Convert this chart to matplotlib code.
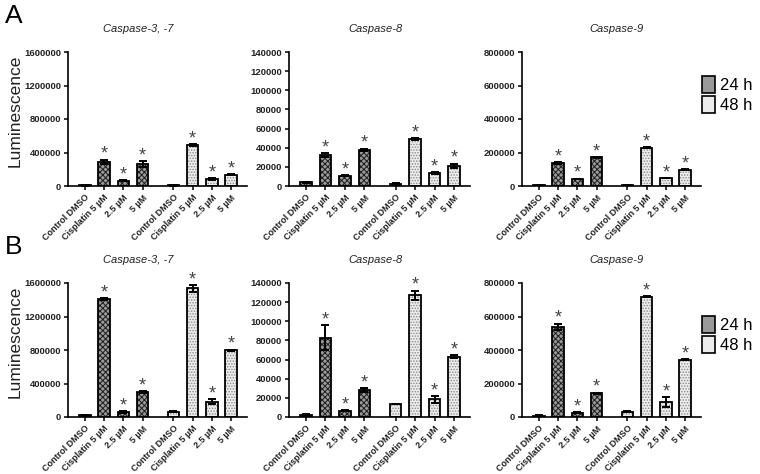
import numpy as np
import matplotlib.pyplot as plt
from matplotlib.patches import Patch

plt.rcParams['font.family'] = ['Liberation Sans', 'DejaVu Sans']
plt.rcParams['hatch.linewidth'] = 0.7

# category labels (24 h group then 48 h group)
cats = ['Control DMSO', 'Cisplatin 5 µM', '2.5 µM', '5 µM']
labels = cats + cats
stars = [False, True, True, True]

# panel A values (mean, error)
a_c37_24 = [8000, 288000, 64000, 264000]
a_c37_24_err = [3000, 28000, 5000, 34000]
a_c37_48 = [6000, 488000, 84000, 136000]
a_c37_48_err = [2000, 8000, 8000, 10000]
a_c8_24 = [3900, 32000, 10600, 38000]
a_c8_24_err = [300, 2000, 500, 1000]
a_c8_48 = [2500, 49000, 13500, 21000]
a_c8_48_err = [300, 800, 800, 2500]
a_c9_24 = [6000, 136000, 42000, 172000]
a_c9_24_err = [1000, 5000, 2000, 3000]
a_c9_48 = [5000, 228000, 48000, 96000]
a_c9_48_err = [1000, 2000, 1500, 3000]

# panel B values
b_c37_24 = [20000, 1408000, 60000, 300000]
b_c37_24_err = [2000, 12000, 8000, 10000]
b_c37_48 = [64000, 1536000, 184000, 796000]
b_c37_48_err = [3000, 40000, 28000, 8000]
b_c8_24 = [2500, 83000, 6700, 28400]
b_c8_24_err = [300, 13000, 600, 2000]
b_c8_48 = [13700, 127000, 18600, 63000]
b_c8_48_err = [400, 5000, 3500, 1500]
b_c9_24 = [8000, 540000, 26000, 142000]
b_c9_24_err = [1500, 18000, 2000, 4000]
b_c9_48 = [32000, 718000, 90000, 342000]
b_c9_48_err = [5000, 4000, 28000, 2000]

titles = ['Caspase-3, -7', 'Caspase-8', 'Caspase-9']
ymax = [1600000, 140000, 800000]
ystep = [400000, 20000, 200000]

W, H = 760, 474
fig = plt.figure(figsize=(W / 100, H / 100), dpi=100)

x24 = np.array([0, 1, 2, 3])
x48 = x24 + 4.6
bw = 0.6

style24 = dict(color='#9a9a9a', edgecolor='#1e1e1e', hatch='xxxxxx')
style48 = dict(color='#ececec', edgecolor='#8a8a8a', hatch='......')


def make_ax(l, r, t, b):
    return fig.add_axes([l / W, 1 - b / H, (r - l) / W, (b - t) / H])


def draw(ax, v24, e24, v48, e48, k, title, title_x):
    for xs, v, e, st in [(x24, v24, e24, style24), (x48, v48, e48, style48)]:
        ax.bar(xs, v, bw, linewidth=0, **st)
        ax.bar(xs, v, bw, fill=False, edgecolor='black', linewidth=1.3,
               yerr=e, capsize=3, error_kw=dict(elinewidth=1.4, capthick=1.4, ecolor='black'))
        for xi, vi, ei, s in zip(xs, v, e, stars):
            if s:
                ax.annotate('*', xy=(xi, vi + ei), xytext=(0, 0.5), textcoords='offset points',
                            ha='center', va='baseline', fontsize=13, color='#444444')
    ax.set_xlim(-0.87, 8.42)
    ax.set_ylim(0, ymax[k])
    ax.set_yticks(np.arange(0, ymax[k] + 1, ystep[k]))
    ax.set_yticklabels([str(int(t)) for t in np.arange(0, ymax[k] + 1, ystep[k])],
                       fontsize=6.8, fontweight='bold', color='#222222')
    ax.set_xticks(np.concatenate([x24, x48]))
    ax.set_xticklabels(labels, rotation=45, ha='right', rotation_mode='anchor',
                       fontsize=6.5, fontweight='bold', color='#222222')
    ax.spines['top'].set_visible(False)
    ax.spines['right'].set_visible(False)
    ax.spines['left'].set_linewidth(1.2)
    ax.spines['bottom'].set_linewidth(1.2)
    ax.tick_params(length=3, width=1.1, pad=2)
    ax.text(title_x, 1.17, title, transform=ax.transAxes, ha='center', va='center',
            fontsize=8, style='italic', color='#222222')


cols = [(68, 247), (289, 470), (522, 701)]
title_xs = [0.39, 0.48, 0.53]
rows = [(52, 186), (283, 417)]
data = [
    [(a_c37_24, a_c37_24_err, a_c37_48, a_c37_48_err),
     (a_c8_24, a_c8_24_err, a_c8_48, a_c8_48_err),
     (a_c9_24, a_c9_24_err, a_c9_48, a_c9_48_err)],
    [(b_c37_24, b_c37_24_err, b_c37_48, b_c37_48_err),
     (b_c8_24, b_c8_24_err, b_c8_48, b_c8_48_err),
     (b_c9_24, b_c9_24_err, b_c9_48, b_c9_48_err)],
]

legend_tops = [76, 316]
for ri, (t, b) in enumerate(rows):
    for k, (l, r) in enumerate(cols):
        ax = make_ax(l, r, t, b)
        draw(ax, *data[ri][k], k, titles[k], title_xs[k])
        if k == 0:
            ax.set_ylabel('Luminescence', fontsize=12.5, color='#222222', labelpad=4)
            ax.yaxis.set_label_coords(-0.255, 0.56)

    # legend
    h24 = (Patch(linewidth=0, **style24), Patch(fill=False, edgecolor='black', linewidth=1.2))
    h48 = (Patch(linewidth=0, **style48), Patch(fill=False, edgecolor='black', linewidth=1.2))
    fig.legend([h24, h48], ['24 h', '48 h'], loc='upper left',
               bbox_to_anchor=(702 / W, 1 - legend_tops[ri] / H), frameon=False, fontsize=12,
               handlelength=0.75, handleheight=1.15, handletextpad=0.3,
               labelspacing=0.2, borderpad=0, borderaxespad=0)

fig.text(5 / W, 1 - 16 / H, 'A', fontsize=19, va='center', ha='left')
fig.text(5 / W, 1 - 247 / H, 'B', fontsize=19, va='center', ha='left')

fig.savefig('out.png', dpi=100)
